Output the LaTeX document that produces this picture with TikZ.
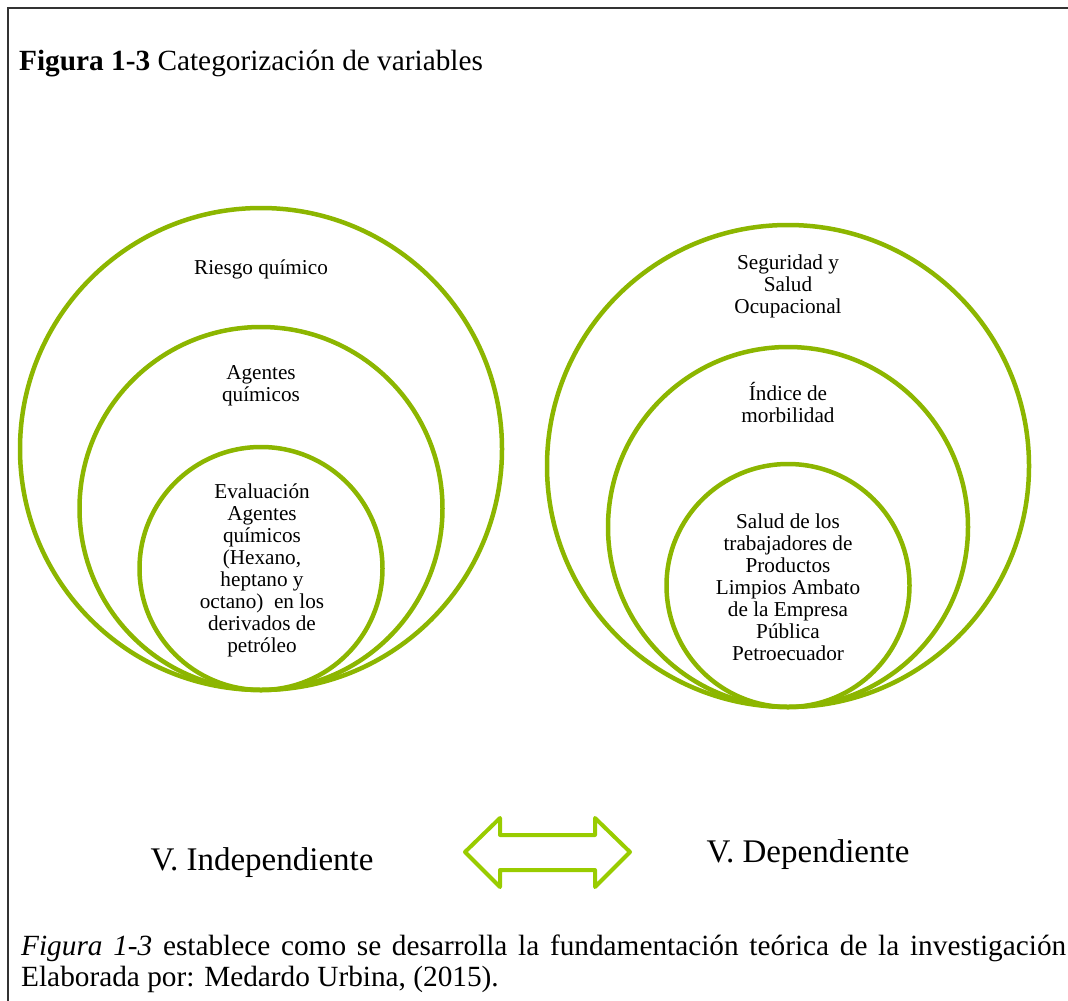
\documentclass[tikz,border=0pt]{standalone}
\usepackage{fontspec}
\setmainfont{Liberation Serif}
\usetikzlibrary{positioning}
\definecolor{verde}{RGB}{140,182,0}
\definecolor{verdeclaro}{RGB}{153,204,0}

\begin{document}
\begin{tikzpicture}[x=1pt, y=-1pt,
  anillo/.style = {draw=verde, line width=4.5pt, circle, inner sep=0pt},
  rotulo/.style = {align=center, inner sep=0pt, font=\fontsize{21.2}{22}\selectfont},
  grande/.style = {inner sep=0pt, font=\fontsize{29.3}{31}\selectfont},
  tipovar/.style = {inner sep=0pt, font=\fontsize{33}{35}\selectfont}]
\useasboundingbox (0,0) rectangle (1068,1001);
\draw[line width=1.3pt, black!80] (8,1100) -- (8,8) -- (1100,8);
\node[grande, anchor=base west] (titulo) at (19,70) {\textbf{Figura 1-3} Categorización de variables};
% variable independiente
\node[anillo, minimum size=482pt] (riesgo) at (261,449) {};
\node[anillo, minimum size=363pt] (agentes) at (261,508.5) {};
\node[anillo, minimum size=243pt] (evaluacion) at (261,568.5) {};
\node[rotulo] (riesgoTxt) at (261,269) {Riesgo químico};
\node[rotulo] (agentesTxt) at (261,386) {Agentes\\químicos};
\node[rotulo] (evaluacionTxt) at (262,570.5) {Evaluación\\Agentes\\químicos\\(Hexano,\\heptano y\\octano)~ en los\\derivados de\\petróleo};
% variable dependiente
\node[anillo, minimum size=482pt] (seguridad) at (788,466) {};
\node[anillo, minimum size=360pt] (indice) at (788,527) {};
\node[anillo, minimum size=243pt] (salud) at (788,585.5) {};
\node[rotulo] (seguridadTxt) at (788,286) {Seguridad y\\Salud\\Ocupacional};
\node[rotulo] (indiceTxt) at (788,402) {Índice de\\morbilidad};
\node[rotulo] (saludTxt) at (788,587) {Salud de los\\trabajadores de\\Productos\\Limpios Ambato\\de la Empresa\\Pública\\Petroecuador};
% flecha doble
\draw[draw=verdeclaro, line width=4pt, line join=round]
  (465,852) -- (500,818) -- (500,835) -- (595,835) -- (595,818) -- (630,852)
  -- (595,887) -- (595,870) -- (500,870) -- (500,887) -- cycle;
\node[tipovar, anchor=base] (indep) at (262,870) {V. Independiente};
\node[tipovar, anchor=base] (dep) at (808,862) {V. Dependiente};
% nota
\node[grande, anchor=base west, text width=1045pt, align=justify] (nota) at (21,955)
  {\textit{Figura 1-3} establece como se desarrolla la fundamentación teórica de la investigación\linebreak
   Elaborada por: Medardo Urbina, (2015).};
\end{tikzpicture}
\end{document}
